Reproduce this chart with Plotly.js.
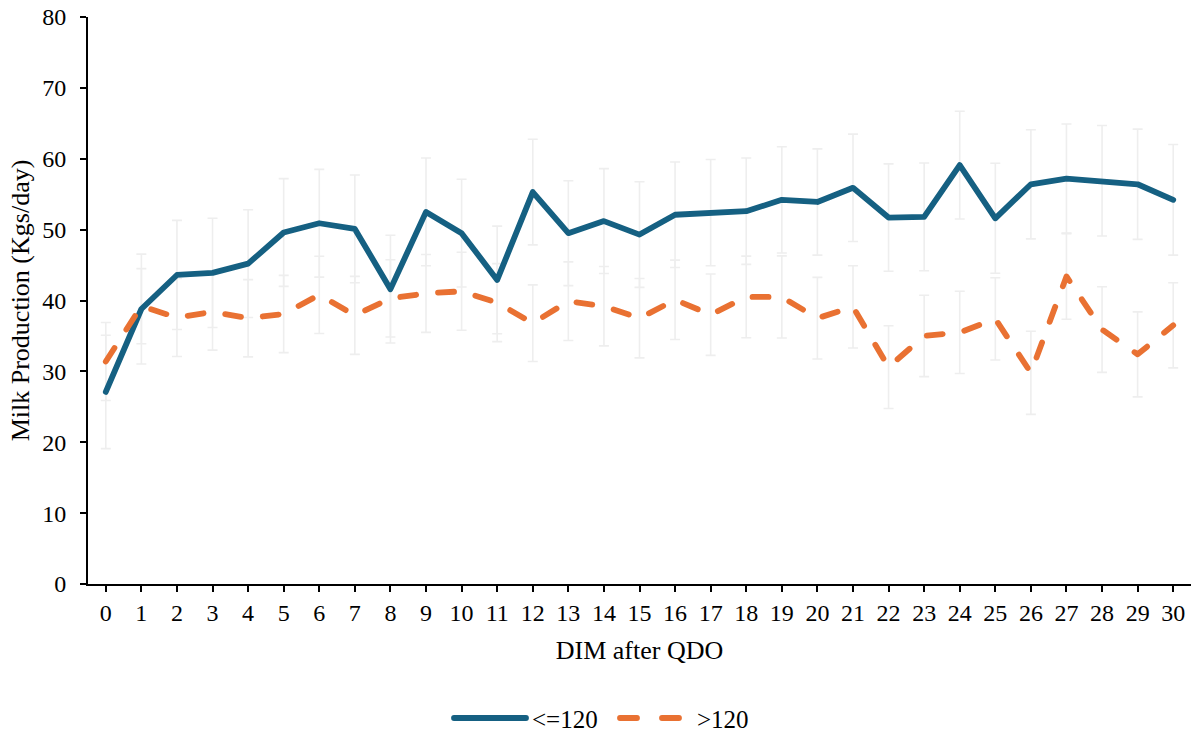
<!DOCTYPE html>
<html>
<head>
<meta charset="utf-8">
<script src="https://cdn.plot.ly/plotly-3.0.1.min.js"></script>
<style>
  html, body { margin: 0; padding: 0; background: #fff; }
  #chart { width: 1191px; height: 732px; }
  .scatterlayer .js-line, .legendlines path { stroke-linecap: round; stroke-linejoin: round; }
</style>
</head>
<body>
<div id="chart"></div>
<script>
// DIM after QDO (days)
const days = [0, 1, 2, 3, 4, 5, 6, 7, 8, 9, 10, 11, 12, 13, 14, 15, 16, 17, 18, 19, 20, 21, 22, 23, 24, 25, 26, 27, 28, 29, 30];
const tickLabels = ["0","1","2","3","4","5","6","7","8","9","10","11","12","13","14","15","16","17","18","19","20","21","22","23","24","25","26","27","28","29","30"];
const yTicks = [0, 10, 20, 30, 40, 50, 60, 70, 80];

// Milk production (kg/day), group <=120
const seriesLe120Name = "<=120";
const seriesLe120 = [27.1, 38.8, 43.6, 43.9, 45.2, 49.6, 50.9, 50.1, 41.6, 52.5, 49.5, 42.9, 55.3, 49.5, 51.2, 49.3, 52.1, 52.4, 52.6, 54.2, 53.9, 55.9, 51.7, 51.8, 59.1, 51.6, 56.4, 57.2, 56.9, 56.4, 54.2];
const errLe120 = [8.0, 7.75, 7.7, 7.7, 7.6, 7.6, 7.6, 7.6, 7.6, 7.6, 7.6, 7.6, 7.45, 7.4, 7.4, 7.45, 7.45, 7.5, 7.5, 7.5, 7.5, 7.57, 7.57, 7.6, 7.6, 7.76, 7.7, 7.7, 7.8, 7.78, 7.8];

// Milk production (kg/day), group >120
const seriesGt120Name = ">120";
const seriesGt120 = [31.4, 39.2, 37.6, 38.4, 37.5, 38.1, 40.8, 37.9, 40.3, 41.0, 41.3, 39.7, 36.8, 39.9, 39.2, 37.5, 40.1, 38.0, 40.5, 40.5, 37.5, 39.1, 30.6, 35.0, 35.5, 37.4, 29.8, 43.4, 35.9, 32.4, 36.5];
const errGt120 = [5.5, 5.3, 5.5, 5.4, 5.45, 5.45, 5.45, 5.5, 5.45, 5.5, 5.5, 5.5, 5.4, 5.55, 5.6, 5.6, 5.6, 5.74, 5.76, 5.8, 5.76, 5.8, 5.83, 5.74, 5.8, 5.8, 5.86, 6.04, 6.04, 6.0, 6.0];

const blue = "#156082";
const orange = "#E97132";
const errColor = "#eeeeee";
const font = "Liberation Serif, Times New Roman, serif";
const tickSize = 24;
const titleSize = 26;

function errTrace(y, err) {
  return {
    x: days, y: y, type: "scatter", mode: "markers",
    marker: {size: 1, color: "rgba(0,0,0,0)"},
    error_y: {type: "data", array: err, visible: true, color: errColor, thickness: 1.6, width: 5},
    showlegend: false, hoverinfo: "skip"
  };
}

const data = [
  errTrace(seriesLe120, errLe120),
  errTrace(seriesGt120, errGt120),
  {
    x: days, y: seriesLe120, name: seriesLe120Name, type: "scatter", mode: "lines",
    line: {color: blue, width: 5.8}
  },
  {
    x: days, y: seriesGt120, name: seriesGt120Name, type: "scatter", mode: "lines",
    line: {color: orange, width: 5.8, dash: "16px,22px"}
  }
];

const layout = {
  width: 1191, height: 732,
  margin: {l: 88, r: 0, t: 17, b: 148, autoexpand: false},
  paper_bgcolor: "#fff", plot_bgcolor: "#fff",
  font: {family: font, size: tickSize, color: "#000"},
  showlegend: true,
  legend: {
    orientation: "h", x: 0.47, xanchor: "center", y: -0.236, yanchor: "middle",
    font: {family: font, size: 25, color: "#000"},
    bgcolor: "rgba(0,0,0,0)"
  },
  xaxis: {
    range: [-0.5, 30.5],
    tickmode: "array", tickvals: days, ticktext: tickLabels,
    showgrid: false, zeroline: false,
    showline: true, linecolor: "#000", linewidth: 2,
    ticks: "outside", ticklen: 6, tickwidth: 2, tickcolor: "#000",
    ticklabelstandoff: 0,
    tickfont: {family: font, size: tickSize, color: "#000"},
    title: {text: "DIM after QDO", font: {family: font, size: titleSize, color: "#000"}, standoff: 16}
  },
  yaxis: {
    range: [0, 80], tickmode: "array", tickvals: yTicks,
    showgrid: false, zeroline: false,
    showline: true, linecolor: "#000", linewidth: 2,
    ticks: "outside", ticklen: 6, tickwidth: 2, tickcolor: "#000",
    ticklabelstandoff: 9,
    tickfont: {family: font, size: tickSize, color: "#000"},
    title: {text: "Milk Production (Kgs/day)", font: {family: font, size: titleSize, color: "#000"}, standoff: 5}
  }
};

// Legend item geometry (layout, not data): sample start x, sample length, text offset, dash
const legendItems = [
  {x: 454, len: 72, textX: 78, dash: null},
  {x: 620, len: 65, textX: 77, dash: "17px,25px"}
];
const legendCenterY = 718;

Plotly.newPlot("chart", data, layout, {displayModeBar: false, staticPlot: true}).then(function (gd) {
  const leg = gd.querySelector(".legend");
  if (!leg) return;
  leg.setAttribute("transform", "translate(0,0)");
  const bg = leg.querySelector(".bg");
  if (bg) bg.style.display = "none";
  const sb = leg.querySelector(".scrollbox");
  if (sb) { sb.removeAttribute("clip-path"); sb.setAttribute("transform", "translate(0,0)"); }
  const traces = leg.querySelectorAll(".traces");
  traces.forEach(function (t, i) {
    const it = legendItems[i];
    if (!it) return;
    t.setAttribute("transform", "translate(" + it.x + "," + legendCenterY + ")");
    t.querySelectorAll(".legendlines path").forEach(function (p) {
      p.setAttribute("d", "M0,0h" + it.len);
      if (it.dash) p.style.strokeDasharray = it.dash;
    });
    const txt = t.querySelector(".legendtext");
    if (txt) txt.setAttribute("x", it.textX);
  });
});
</script>
</body>
</html>
